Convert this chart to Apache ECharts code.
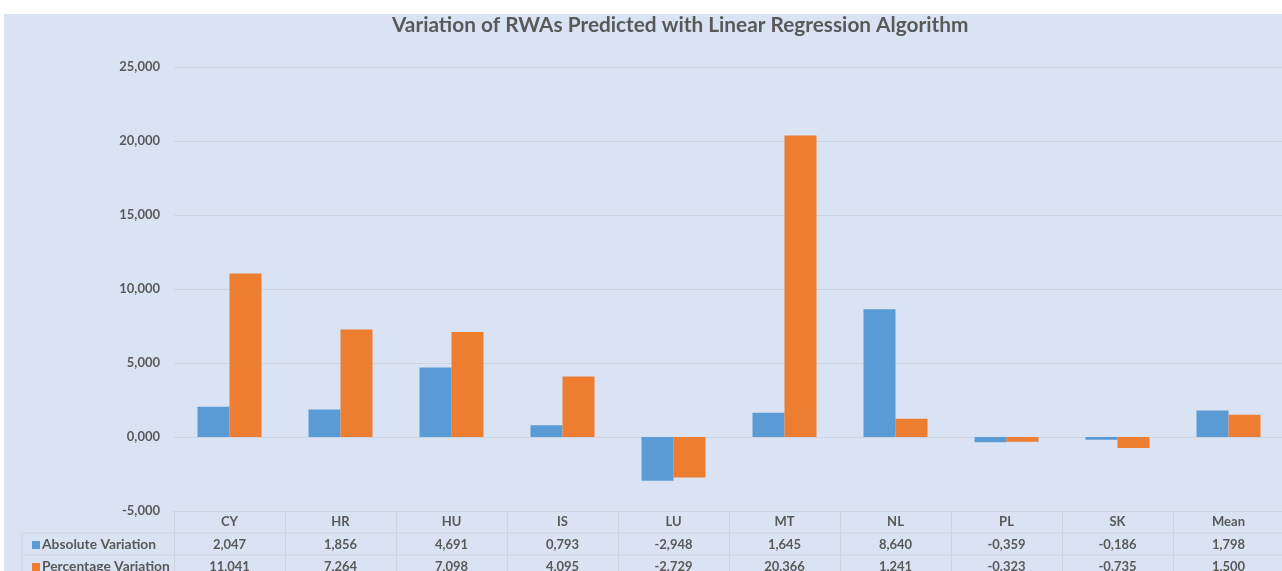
<!DOCTYPE html>
<html>
<head>
<meta charset="utf-8">
<script src="https://cdn.jsdelivr.net/npm/echarts@6/dist/echarts.min.js"></script>
<style>
  html, body { margin: 0; padding: 0; background: #ffffff; }
  #chart { position: absolute; left: 4px; top: 14px; width: 1278px; height: 557px; }
</style>
</head>
<body>
<div id="chart"></div>
<script>
var categories = ['CY', 'HR', 'HU', 'IS', 'LU', 'MT', 'NL', 'PL', 'SK', 'Mean'];
var absoluteVariation = [2.047, 1.856, 4.691, 0.793, -2.948, 1.645, 8.640, -0.359, -0.186, 1.798];
var percentageVariation = [11.041, 7.264, 7.098, 4.095, -2.729, 20.366, 1.241, -0.323, -0.735, 1.500];
var seriesNames = ['Absolute Variation', 'Percentage Variation'];
var colors = ['#5b9bd5', '#ed7d31'];

var fontFamily = 'Lato, "Open Sans", sans-serif';
var textColor = '#595959';
var lineColor = '#cdd4e0';

function fmt(v) {
    return v.toFixed(3).replace('.', ',');
}

var labelStyle = { color: textColor, fontFamily: fontFamily, fontWeight: 'bold', fontSize: 13 };

function legendRow(name, top) {
    return {
        orient: 'vertical',
        left: 23,
        top: top,
        itemWidth: 8,
        itemHeight: 8,
        icon: 'rect',
        data: [name],
        textStyle: { color: textColor, fontFamily: fontFamily, fontWeight: 'bold', fontSize: 13.8, padding: [0, 0, 0, -3] }
    };
}

var myChart = echarts.init(document.getElementById('chart'));

var option = {
    backgroundColor: '#dae3f3',
    animation: false,
    title: {
        text: 'Variation of RWAs Predicted with Linear Regression Algorithm',
        left: 388,
        top: 1,
        padding: 0,
        textStyle: { color: textColor, fontFamily: fontFamily, fontWeight: 'bold', fontSize: 20.8 }
    },
    legend: [legendRow(seriesNames[0], 519), legendRow(seriesNames[1], 541)],
    grid: { left: 170, top: 53, width: 1110, bottom: 60, outerBoundsMode: 'none', containLabel: false },
    xAxis: [
        {
            type: 'category',
            data: categories,
            position: 'bottom',
            axisLine: { onZero: false, lineStyle: { color: lineColor } },
            axisTick: { show: true, length: 60, lineStyle: { color: lineColor } },
            axisLabel: Object.assign({ margin: 4 }, labelStyle)
        },
        {
            type: 'category',
            data: categories,
            position: 'bottom',
            offset: 22,
            axisLine: { show: false },
            axisTick: { show: false },
            axisLabel: Object.assign({ margin: 5, formatter: function (v, i) { return fmt(absoluteVariation[i]); } }, labelStyle)
        },
        {
            type: 'category',
            data: categories,
            position: 'bottom',
            offset: 44,
            axisLine: { show: false },
            axisTick: { show: false },
            axisLabel: Object.assign({ margin: 5, formatter: function (v, i) { return fmt(percentageVariation[i]); } }, labelStyle)
        }
    ],
    yAxis: {
        type: 'value',
        min: -5,
        max: 25,
        interval: 5,
        axisLine: { show: false },
        axisTick: { show: false },
        splitLine: { lineStyle: { color: lineColor } },
        axisLabel: Object.assign({ margin: 14, formatter: function (v) { return fmt(v); } }, labelStyle)
    },
    graphic: [
        { type: 'line', shape: { x1: 18, y1: 519, x2: 1278, y2: 519 }, style: { stroke: lineColor, lineWidth: 1 } },
        { type: 'line', shape: { x1: 18, y1: 541, x2: 1278, y2: 541 }, style: { stroke: lineColor, lineWidth: 1 } },
        { type: 'line', shape: { x1: 18, y1: 519, x2: 18, y2: 557 }, style: { stroke: lineColor, lineWidth: 1 } }
    ],
    series: [
        {
            name: seriesNames[0],
            type: 'bar',
            data: absoluteVariation,
            barWidth: 32,
            barGap: '0%',
            itemStyle: { color: colors[0] }
        },
        {
            name: seriesNames[1],
            type: 'bar',
            data: percentageVariation,
            barWidth: 32,
            barGap: '0%',
            itemStyle: { color: colors[1] }
        }
    ]
};

myChart.setOption(option);
</script>
</body>
</html>
